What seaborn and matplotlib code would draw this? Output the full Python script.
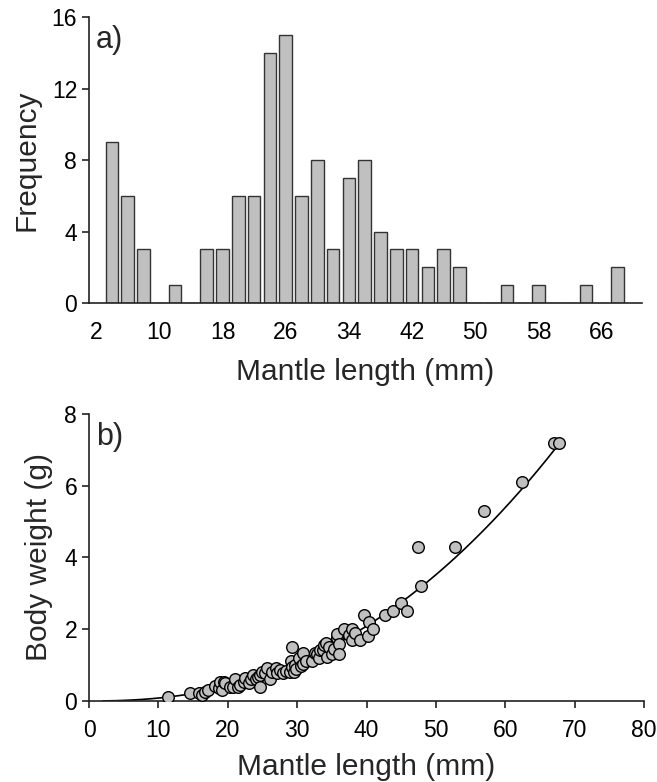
import matplotlib
matplotlib.use("Agg")
import matplotlib.pyplot as plt
import numpy as np
import pandas as pd
import seaborn as sns

# a) length-frequency, 2 mm classes (class centres)
class_mid = [4, 6, 8, 10, 12, 14, 16, 18, 20, 22, 24, 26, 28, 30, 32, 34,
             36, 38, 40, 42, 44, 46, 48, 50, 52, 54, 56, 58, 60, 62, 64,
             66, 68]
frequency = [9, 6, 3, 0, 1, 0, 3, 3, 6, 6, 14, 15, 6, 8, 3, 7,
             8, 4, 3, 3, 2, 3, 2, 0, 0, 1, 0, 1, 0, 0, 1,
             0, 2]
hist_ticks = [2, 10, 18, 26, 34, 42, 50, 58, 66]

# b) mantle length vs body weight
mantle_length = [
    11.4, 14.5, 15.9, 16.3, 16.7, 17.1, 18.2, 18.7, 18.9, 19.1, 19.4, 19.6,
    20.3, 20.8, 21.1, 21.5, 21.8, 22.3, 22.5, 23.0, 23.3, 23.7, 24.0, 24.4,
    24.6, 24.7, 24.9, 25.4, 25.6, 26.1, 26.4, 27.0, 27.1, 27.6, 28.0, 28.4,
    28.9, 29.1, 29.2, 29.3, 29.5, 29.7, 29.9, 30.2, 30.5, 30.8, 30.9, 31.3,
    32.1, 32.6, 32.9, 33.1, 33.3, 33.7, 33.9, 34.1, 34.3, 34.6, 35.0, 35.3,
    35.7, 35.8, 36.0, 36.1, 36.7, 37.5, 37.9, 37.9, 38.4, 39.1, 39.7, 40.2,
    40.3, 41.0, 42.6, 43.8, 45.0, 45.8, 47.4, 47.9, 52.8, 57.0, 62.4, 67.0,
    67.8]
body_weight = [
    0.12, 0.21, 0.21, 0.17, 0.24, 0.31, 0.43, 0.35, 0.54, 0.31, 0.54, 0.50,
    0.40, 0.40, 0.60, 0.40, 0.45, 0.54, 0.63, 0.49, 0.60, 0.72, 0.60, 0.68,
    0.40, 0.72, 0.82, 0.77, 0.91, 0.60, 0.82, 0.91, 0.77, 0.85, 0.79, 0.83,
    0.82, 1.12, 1.51, 0.95, 0.82, 1.00, 0.88, 1.19, 0.98, 1.33, 1.02, 1.12,
    1.11, 1.33, 1.30, 1.21, 1.42, 1.42, 1.56, 1.63, 1.22, 1.50, 1.30, 1.45,
    1.75, 1.86, 1.60, 1.30, 2.00, 1.85, 2.00, 1.70, 1.90, 1.70, 2.41, 1.82,
    2.21, 2.00, 2.41, 2.52, 2.72, 2.52, 4.30, 3.20, 4.30, 5.30, 6.10, 7.20,
    7.20]

sns.set_theme(style="ticks")
plt.rcParams["font.family"] = ["Liberation Sans", "DejaVu Sans"]

bar_color = "#c0c0c0"
line_color = "#222222"

fig = plt.figure(figsize=(6.57, 7.82), dpi=100)
ax_a = fig.add_axes([0.1355, 0.6125, 0.8417, 0.3657])
ax_b = fig.add_axes([0.1355, 0.1036, 0.8447, 0.3670])

# histogram
hist_df = pd.DataFrame({"length": class_mid, "freq": frequency})
sns.histplot(
    data=hist_df,
    x="length",
    weights="freq",
    binwidth=2,
    binrange=(3, 69),
    shrink=0.8,
    color=bar_color,
    edgecolor="#333333",
    linewidth=1.0,
    alpha=1,
    ax=ax_a,
)
ax_a.set_xlim(1.1, 71.1)
ax_a.set_ylim(0, 16)
ax_a.set_xticks(hist_ticks)
ax_a.set_yticks([0, 4, 8, 12, 16])
ax_a.set_xlabel("Mantle length (mm)", fontsize=21.5, labelpad=10)
ax_a.set_ylabel("Frequency", fontsize=21.5, labelpad=8)
ax_a.text(0.012, 0.92, "a)", transform=ax_a.transAxes, fontsize=22,
          va="center", ha="left")

# length-weight relationship, power fit W = a * L^b
coef = np.polyfit(np.log(mantle_length), np.log(body_weight), 1)
fit_x = np.linspace(2, 68, 300)
fit_y = np.exp(coef[1]) * fit_x ** coef[0]

sns.lineplot(x=fit_x, y=fit_y, color="black", linewidth=1.2, ax=ax_b)
sns.scatterplot(
    x=mantle_length,
    y=body_weight,
    s=70,
    color=bar_color,
    edgecolor="black",
    linewidth=1.0,
    ax=ax_b,
    zorder=3,
)
ax_b.set_xlim(0, 80)
ax_b.set_ylim(0, 8)
ax_b.set_xticks(range(0, 81, 10))
ax_b.set_yticks([0, 2, 4, 6, 8])
ax_b.set_xlabel("Mantle length (mm)", fontsize=21.5, labelpad=8)
ax_b.set_ylabel("Body weight (g)", fontsize=21.5, labelpad=8)
ax_b.text(0.012, 0.92, "b)", transform=ax_b.transAxes, fontsize=22,
          va="center", ha="left")

for ax in (ax_a, ax_b):
    ax.spines["right"].set_visible(False)
    ax.spines["top"].set_visible(False)
    for side in ("left", "bottom"):
        ax.spines[side].set_color(line_color)
        ax.spines[side].set_linewidth(1.2)
    ax.tick_params(labelsize=16.5, colors=line_color, labelcolor="black",
                   width=1.2, direction="out")
    ax.tick_params(axis="y", length=5)
ax_a.tick_params(axis="x", length=0, pad=13)
ax_b.tick_params(axis="x", length=5, pad=8)

fig.savefig("out.png", dpi=100)
plt.close(fig)
